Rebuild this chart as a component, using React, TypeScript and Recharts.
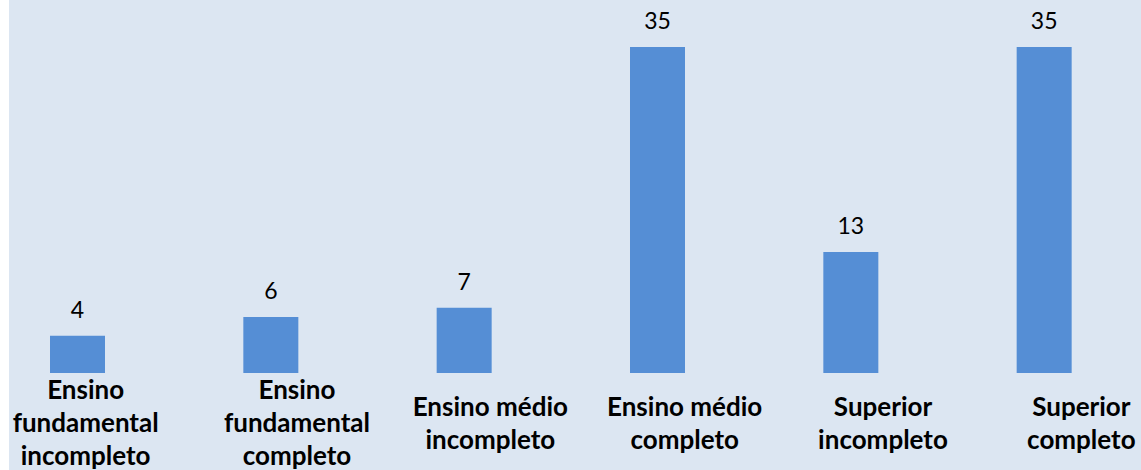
import React from "react";
import { BarChart, Bar, XAxis, YAxis, LabelList } from "recharts";

const categories = [
  "Ensino\nfundamental\nincompleto",
  "Ensino\nfundamental\ncompleto",
  "Ensino médio\nincompleto",
  "Ensino médio\ncompleto",
  "Superior\nincompleto",
  "Superior\ncompleto",
];
const values = [4, 6, 7, 35, 13, 35];

const data = categories.map((c, i) => ({ name: c, value: values[i] }));

const BG = "#DCE6F2";
const BAR = "#558ED5";
const TICK_DX = [8, 26, 26, 27, 32, 37];
const LINE_H = 33;
const MID_BASELINE = 432;

const CategoryTick = (props: any) => {
  const { x, payload, index } = props;
  const lines: string[] = String(payload.value).split("\n");
  const cx = x + (TICK_DX[index] ?? 26);
  const first = MID_BASELINE - ((lines.length - 1) / 2) * LINE_H;
  return (
    <text
      textAnchor="middle"
      fontFamily="Lato, 'Open Sans', sans-serif"
      fontWeight={700}
      fontSize={26}
      fill="#000000"
    >
      {lines.map((l, i) => (
        <tspan key={i} x={cx} y={first + i * LINE_H}>
          {l}
        </tspan>
      ))}
    </text>
  );
};

export default function App() {
  return (
    <div
      style={{
        position: "fixed",
        left: 0,
        top: 0,
        width: 1141,
        height: 470,
        overflow: "hidden",
        background: "#ffffff",
      }}
    >
      <div
        style={{
          position: "absolute",
          left: 9,
          top: 0,
          width: 1132,
          height: 470,
          background: BG,
        }}
      />
      <div style={{ position: "absolute", left: -19, top: 0 }}>
        <BarChart
          width={1160}
          height={470}
          data={data}
          margin={{ top: 47, right: 0, bottom: 0, left: 0 }}
          barCategoryGap={0}
        >
          <XAxis
            dataKey="name"
            axisLine={false}
            tickLine={false}
            interval={0}
            height={97}
            tick={<CategoryTick />}
          />
          <YAxis hide domain={[0, 35]} />
          <Bar dataKey="value" fill={BAR} barSize={55} isAnimationActive={false}>
            <LabelList
              dataKey="value"
              position="top"
              offset={18}
              fill="#000000"
              fontSize={23}
              fontFamily="Lato, 'Open Sans', sans-serif"
            />
          </Bar>
        </BarChart>
      </div>
    </div>
  );
}
